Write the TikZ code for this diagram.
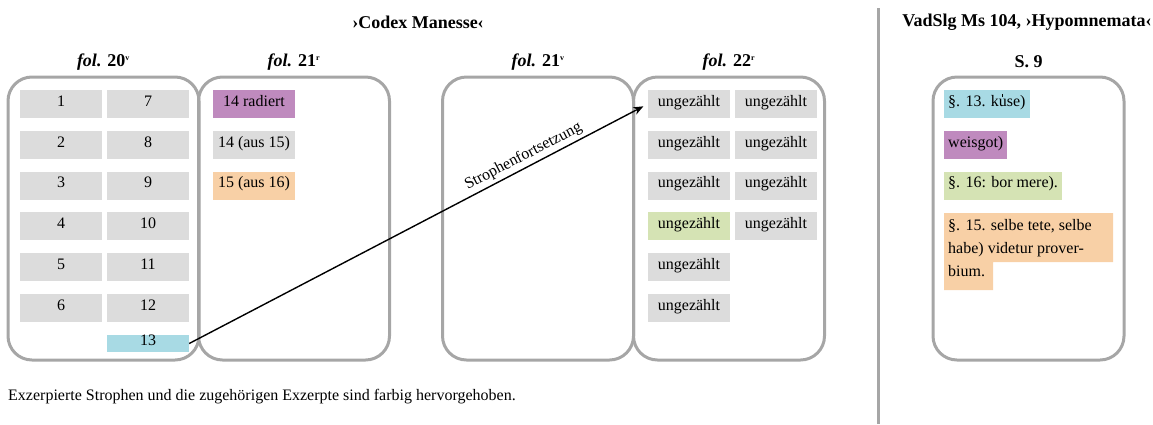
\documentclass[tikz,border=0pt]{standalone}
\usepackage{fontspec}
\setmainfont{Liberation Serif}
\usetikzlibrary{arrows.meta}
\definecolor{cellgray}{RGB}{220,220,220}
\definecolor{framegray}{RGB}{166,166,166}
\definecolor{hlpurple}{RGB}{191,138,190}
\definecolor{hlblue}{RGB}{168,218,228}
\definecolor{hlorange}{RGB}{248,208,166}
\definecolor{hlgreen}{RGB}{213,227,180}
% u with a small vertical stroke above
\newcommand{\utick}{\ooalign{u\cr\hidewidth\raisebox{1.25ex}{\rule{0.7pt}{3.2pt}}\hspace{1.2pt}\hidewidth\cr}}
\begin{document}
\begin{tikzpicture}[x=1pt,y=-1pt,
  font=\fontsize{16}{20}\selectfont,
  frame/.style={draw=framegray, line width=3pt, rounded corners=24pt,
    minimum width=191pt, minimum height=283pt, inner sep=0pt},
  cell/.style={fill=cellgray, minimum width=82pt, minimum height=28pt,
    inner sep=0pt, text height=0.68em, text depth=0.22em},
  xcell/.style={cell, minimum width=0pt, inner xsep=4pt, anchor=west},
  heading/.style={font=\fontsize{18}{22}\selectfont\bfseries, inner sep=0pt},
  link/.style={-{Stealth[length=10pt,width=8pt]}, line width=1.4pt, shorten >=5pt}
]
\useasboundingbox (0,0) rectangle (1153,424);

% separator between the two manuscripts
\draw[framegray, line width=3pt] (878,8) -- (878,424);

% headings
\node[heading] (tcm) at (418,22) {›Codex Manesse‹};
\node[heading] (tvad) at (1027,22) {VadSlg Ms 104, ›Hypomnemata‹};
\node[heading] (h20v) at (103.5,62) {\textit{fol.} 20\textsuperscript{\footnotesize v}};
\node[heading] (h21r) at (294,62) {\textit{fol.} 21\textsuperscript{\footnotesize r}};
\node[heading] (h21v) at (538,62) {\textit{fol.} 21\textsuperscript{\footnotesize v}};
\node[heading] (h22r) at (729,62) {\textit{fol.} 22\textsuperscript{\footnotesize r}};
\node[heading] (hs9) at (1028.5,62) {S. 9};

% page frames
\node[frame] (f20v) at (103.5,218.5) {};
\node[frame] (f21r) at (294,218.5) {};
\node[frame] (f21v) at (538,218.5) {};
\node[frame] (f22r) at (729,218.5) {};
\node[frame] (fs9) at (1028.5,218.5) {};

% fol. 20v
\node[cell] (c1) at (61,104) {1};
\node[cell] (c2) at (61,144.8) {2};
\node[cell] (c3) at (61,185.6) {3};
\node[cell] (c4) at (61,226.4) {4};
\node[cell] (c5) at (61,267.2) {5};
\node[cell] (c6) at (61,308) {6};
\node[cell] (c7) at (148,104) {7};
\node[cell] (c8) at (148,144.8) {8};
\node[cell] (c9) at (148,185.6) {9};
\node[cell] (c10) at (148,226.4) {10};
\node[cell] (c11) at (148,267.2) {11};
\node[cell] (c12) at (148,308) {12};
\node[cell, fill=hlblue, minimum height=17pt] (c13) at (148,343.5) {13};

% fol. 21r
\node[cell, fill=hlpurple] (r1) at (254,104) {14 radiert};
\node[cell] (r2) at (254,144.8) {14 (aus 15)};
\node[cell, fill=hlorange] (r3) at (254,185.6) {15 (aus 16)};

% fol. 22r
\node[cell] (u1) at (689,104) {ungezählt};
\node[cell] (u2) at (776,104) {ungezählt};
\node[cell] (u3) at (689,144.8) {ungezählt};
\node[cell] (u4) at (776,144.8) {ungezählt};
\node[cell] (u5) at (689,185.6) {ungezählt};
\node[cell] (u6) at (776,185.6) {ungezählt};
\node[cell, fill=hlgreen] (u7) at (689,226.4) {ungezählt};
\node[cell] (u8) at (776,226.4) {ungezählt};
\node[cell] (u9) at (689,267.2) {ungezählt};
\node[cell] (u10) at (689,308) {ungezählt};

% continuation of the stanza
\draw[link] (c13.east) -- node[pos=0.74, sloped, above, inner sep=3pt] {Strophenfortsetzung} (u1.west);

% excerpts on p. 9
\node[xcell, fill=hlblue] (e1) at (944,104) {§. 13. k\utick se)};
\node[xcell, fill=hlpurple] (e2) at (944,144.8) {weisgot)};
\node[xcell, fill=hlgreen] (e3) at (944,185.6) {§. 16: bor mere).};
\fill[hlorange] (944,213) -- (1113,213) -- (1113,262) -- (993,262) -- (993,290) -- (944,290) -- cycle;
\node[anchor=north west, align=left, inner sep=0pt,
  font=\fontsize{16}{23}\selectfont] (e4) at (948,219)
  {§. 15. selbe tete, selbe\\habe) videtur prover-\\bium.};

% caption
\node[anchor=west, inner sep=0pt] (cap) at (8,397)
  {Exzerpierte Strophen und die zugehörigen Exzerpte sind farbig hervorgehoben.};
\end{tikzpicture}
\end{document}
